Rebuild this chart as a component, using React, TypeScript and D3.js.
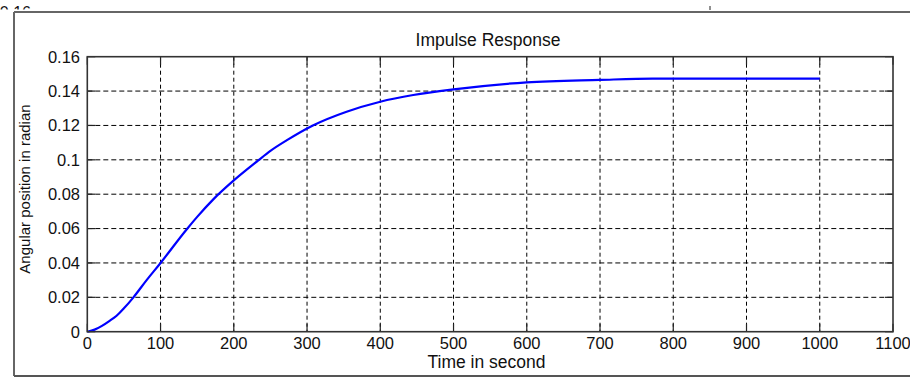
import React from "react";
import * as d3 from "d3";

const timeSec = [0, 10, 20, 30, 40, 50, 63, 81, 100, 135, 150, 172, 200, 233, 250, 272, 308, 354, 400, 445, 500, 600, 700, 772, 1000];
const angleRad = [0, 0.0012, 0.0034, 0.0062, 0.0093, 0.0136, 0.02, 0.03, 0.04, 0.0592, 0.0668, 0.077, 0.088, 0.0995, 0.1052, 0.1113, 0.12, 0.128, 0.1338, 0.1377, 0.141, 0.1451, 0.1465, 0.1472, 0.1472];
const xTicks = [0, 100, 200, 300, 400, 500, 600, 700, 800, 900, 1000, 1100];
const yTicks = [0, 0.02, 0.04, 0.06, 0.08, 0.1, 0.12, 0.14, 0.16];
const titleText = "Impulse Response";
const xLabel = "Time in second";
const yLabel = "Angular position in radian";

const W = 910, H = 378;
const L = 87.3, R = 893, T = 56.7, B = 331.7;
const FONT = "'Liberation Sans', Arial, sans-serif";

export default function App() {
  const x = d3.scaleLinear().domain([0, 1100]).range([L, R]);
  const y = d3.scaleLinear().domain([0, 0.16]).range([B, T]);
  const pts = timeSec.map((t, i) => [t, angleRad[i]] as [number, number]);
  const line = d3.line<[number, number]>().x(d => x(d[0])).y(d => y(d[1])).curve(d3.curveMonotoneX);
  const yFmt = (v: number) => (v === 0 ? "0" : String(+v.toFixed(2)));
  return (
    <svg width={W} height={H} style={{ position: "absolute", left: 0, top: 0, background: "#fff" }}>
      <defs>
        <clipPath id="topclip"><rect x={0} y={0} width={60} height={9.5} /></clipPath>
      </defs>
      <rect x={0} y={0} width={W} height={H} fill="#fff" />
      <text x={31} y={17.5} textAnchor="end" fontFamily={FONT} fontSize={16} fill="#111" clipPath="url(#topclip)">0.16</text>
      <line x1={710} x2={710} y1={6} y2={10} stroke="#222" strokeWidth={1} />
      <line x1={14} x2={W} y1={12} y2={12} stroke="#666" strokeWidth={2} />
      <line x1={14} x2={14} y1={12} y2={376} stroke="#666" strokeWidth={2} />
      <line x1={14} x2={W} y1={376} y2={376} stroke="#555" strokeWidth={2} />
      {xTicks.filter(t => t > 0 && t < 1100).map(t => (
        <line key={"gx" + t} x1={x(t)} x2={x(t)} y1={T} y2={B} stroke="#000" strokeWidth={1} strokeDasharray="4,3" />
      ))}
      {yTicks.filter(t => t > 0 && t < 0.16).map(t => (
        <line key={"gy" + t} x1={L} x2={R} y1={y(t)} y2={y(t)} stroke="#000" strokeWidth={1} strokeDasharray="5,3" />
      ))}
      {xTicks.map(t => (
        <g key={"tx" + t}>
          <line x1={x(t)} x2={x(t)} y1={B} y2={B - 8} stroke="#222" strokeWidth={1.2} />
          <line x1={x(t)} x2={x(t)} y1={T} y2={T + 8} stroke="#222" strokeWidth={1.2} />
          <text x={x(t)} y={348.5} textAnchor="middle" fontFamily={FONT} fontSize={16.5} fill="#111">{t}</text>
        </g>
      ))}
      {yTicks.map(t => (
        <g key={"ty" + t}>
          <line x1={L} x2={L + 8} y1={y(t)} y2={y(t)} stroke="#222" strokeWidth={1.2} />
          <line x1={R} x2={R - 8} y1={y(t)} y2={y(t)} stroke="#222" strokeWidth={1.2} />
          <text x={80} y={y(t) + 5.8} textAnchor="end" fontFamily={FONT} fontSize={16.5} fill="#111">{yFmt(t)}</text>
        </g>
      ))}
      <path d={line(pts) || ""} fill="none" stroke="#0000ff" strokeWidth={2.2} />
      <rect x={L} y={T} width={R - L} height={B - T} fill="none" stroke="#333" strokeWidth={1.6} />
      <text x={488} y={46} textAnchor="middle" fontFamily={FONT} fontSize={17.5} fill="#111">{titleText}</text>
      <text x={486.5} y={368} textAnchor="middle" fontFamily={FONT} fontSize={17.5} fill="#111">{xLabel}</text>
      <text transform={`translate(30,189) rotate(-90)`} textAnchor="middle" fontFamily={FONT} fontSize={15} fill="#111">{yLabel}</text>
    </svg>
  );
}
